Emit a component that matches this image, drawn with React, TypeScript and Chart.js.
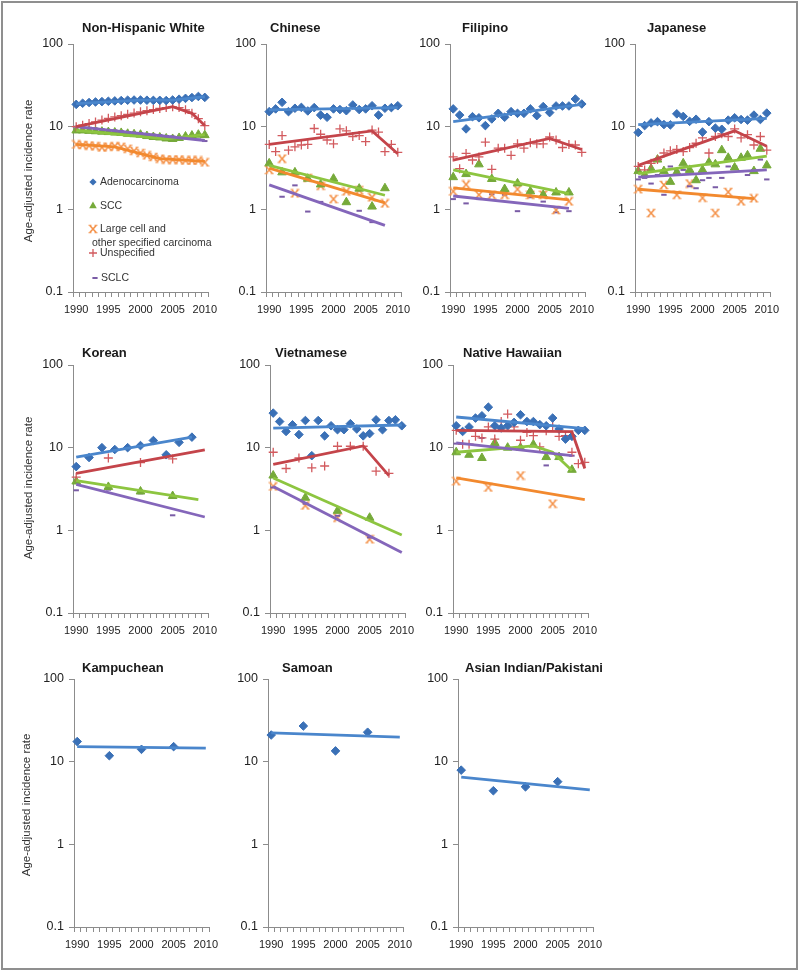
import React, { useEffect, useRef } from 'react';
import { Chart, registerables } from 'chart.js';

Chart.register(...registerables);

const FONT = "'Liberation Sans', Arial, Helvetica, sans-serif";

// ---------------- axis values ----------------
const YEARS = [1990, 1991, 1992, 1993, 1994, 1995, 1996, 1997, 1998, 1999, 2000, 2001, 2002, 2003, 2004, 2005, 2006, 2007, 2008, 2009, 2010];
const BIENNIAL_YEARS = [1990, 1992, 1994, 1996, 1998, 2000, 2002, 2004, 2006, 2008];
const QUINQ_YEARS = [1990, 1995, 2000, 2005];
const X_LABEL_YEARS = [1990, 1995, 2000, 2005, 2010];
const Y_TICKS = [0.1, 1, 10, 100];
const X_MIN = 1989.5;
const X_MAX = 2010.5;
const Y_TITLE = 'Age-adjusted incidence rate';
const LEGEND_LABELS = [['Adenocarcinoma'], ['SCC'], ['Large cell and', 'other specified carcinoma'], ['Unspecified'], ['SCLC']];

// ---------------- Non-Hispanic White ----------------
const nhwAdeno = [18.6, 19.2, 19.6, 19.9, 20.1, 20.3, 20.5, 20.7, 20.9, 21.0, 21.0, 20.9, 20.8, 20.8, 20.7, 21.0, 21.5, 22.0, 22.5, 23.2, 22.6];
const nhwScc = [9.0, 9.0, 8.9, 8.8, 8.7, 8.6, 8.5, 8.4, 8.2, 8.1, 8.0, 7.7, 7.5, 7.4, 7.2, 7.1, 7.3, 7.6, 7.8, 8.0, 7.9];
const nhwLarge = [6.1, 6.0, 5.9, 5.8, 5.6, 5.7, 5.8, 5.7, 5.4, 5.1, 4.8, 4.5, 4.3, 4.1, 4.0, 4.0, 4.0, 3.9, 3.9, 3.9, 3.7];
const nhwUnspec = [10.0, 10.4, 10.9, 11.4, 12.0, 12.6, 13.1, 13.6, 14.1, 14.6, 15.1, 15.6, 16.1, 16.6, 17.0, 17.4, 17.0, 16.0, 14.5, 12.5, 10.3];
const nhwSclc = [10.0, 9.8, 9.7, 9.5, 9.3, 9.1, 9.0, 8.8, 8.6, 8.4, 8.3, 8.1, 8.0, 7.9, 7.7, 7.6, 7.4, 7.3, 7.1, 7.0, 6.7];
const nhwAdenoTrend = [[1990, 19.0], [2000, 21.0], [2005, 21.0], [2010, 23.0]];
const nhwSccTrend = [[1990, 9.0], [2004, 7.1], [2010, 8.0]];
const nhwLargeTrend = [[1990, 6.1], [1996, 5.7], [2003, 4.1], [2010, 3.8]];
const nhwUnspecTrend = [[1990, 10.0], [2005, 17.5], [2008, 14.5], [2010, 10.3]];
const nhwSclcTrend = [[1990, 10.0], [2010, 6.8]];

// ---------------- Chinese ----------------
const chnAdeno = [15.2, 16.4, 19.7, 15.2, 16.7, 17.1, 15.5, 17.0, 13.8, 13.0, 16.4, 16.1, 15.6, 18.3, 16.1, 16.4, 17.9, 13.8, 16.7, 17.0, 17.9];
const chnUnspec = [6.1, 5.0, 7.8, 5.2, 5.7, 6.0, 6.1, 9.5, 8.1, 6.9, 6.2, 9.4, 8.9, 7.6, 7.8, 6.6, 9.1, 8.6, 5.0, 6.1, 4.9];
const chnScc = [3.6, 2.8, 2.8, 2.35, 2.0, 2.35, 1.22, 1.78, 1.08, 1.8];
const chnLarge = [3.0, 4.1, 1.56, 2.4, 1.93, 1.33, 1.65, 1.7, 1.4, 1.18];
const chnSclc = [null, 1.42, 1.95, 0.94, 1.23, null, null, 0.96, 0.7, null];
const chnAdenoTrend = [[1990, 16.0], [2010, 17.0]];
const chnUnspecTrend = [[1990, 6.1], [2006, 8.9], [2010, 4.7]];
const chnSccTrend = [[1990, 3.4], [2008, 1.48]];
const chnLargeTrend = [[1990, 3.15], [2008, 1.2]];
const chnSclcTrend = [[1990, 1.98], [2008, 0.64]];

// ---------------- Filipino ----------------
const filAdeno = [16.4, 13.8, 9.4, 13.2, 12.8, 10.3, 12.4, 14.5, 13.0, 15.2, 14.5, 14.5, 16.4, 13.6, 17.5, 14.8, 17.8, 17.8, 17.8, 21.6, 18.8];
const filUnspec = [4.3, 3.1, 4.75, 3.95, 4.3, 6.5, 3.05, 5.5, 5.5, 4.5, 6.2, 5.5, 6.4, 6.2, 6.2, 7.5, 6.9, 5.6, 6.1, 6.0, 4.9];
const filScc = [2.45, 2.67, 3.5, 2.33, 1.76, 2.06, 1.65, 1.5, 1.6, 1.6];
const filLarge = [1.65, 2.0, 1.5, 1.5, 1.5, 1.75, 1.5, 1.5, 0.98, 1.25];
const filSclc = [1.33, 1.18, 1.33, 1.52, 1.5, 0.95, 1.4, 1.24, 0.92, 0.95];
const filAdenoTrend = [[1990, 11.5], [2010, 18.6]];
const filUnspecTrend = [[1990, 3.95], [2005, 7.2], [2010, 5.3]];
const filSccTrend = [[1990, 3.0], [2008, 1.55]];
const filLargeTrend = [[1990, 1.82], [2008, 1.3]];
const filSclcTrend = [[1990, 1.45], [2008, 1.03]];

// ---------------- Japanese ----------------
const jpnAdeno = [8.5, 10.3, 11.1, 11.5, 10.6, 10.5, 14.3, 13.3, 11.6, 12.3, 8.6, 11.5, 9.6, 9.3, 12.0, 12.8, 12.2, 12.0, 13.8, 12.2, 14.6];
const jpnUnspec = [3.3, 3.0, 3.6, 4.0, 4.8, 5.1, 5.3, 5.0, 5.6, 6.3, 7.3, 4.8, 7.6, 8.2, 7.6, 9.4, 7.3, 8.0, 6.0, 7.6, 5.2];
const jpnScc = [2.9, 2.6, 3.1, 4.0, 2.9, 2.15, 2.8, 3.6, 3.0, 2.25, 3.0, 3.7, 3.5, 5.2, 4.2, 3.2, 4.2, 4.5, 2.9, 5.4, 3.4];
const jpnLarge = [1.75, 0.9, 1.97, 1.5, 2.05, 1.38, 0.9, 1.62, 1.25, 1.36];
const jpnSclc = [2.3, 2.4, 2.05, 2.6, 1.5, 3.3, 2.9, 3.0, 1.9, 1.8, 2.25, 2.4, 1.85, 2.4, 3.3, 3.3, 2.9, 2.6, 3.0, 4.0, 2.3];
const jpnAdenoTrend = [[1990, 10.6], [2010, 12.6]];
const jpnUnspecTrend = [[1990, 3.4], [2005, 8.9], [2010, 5.8]];
const jpnSccTrend = [[1990, 2.7], [2010, 4.4]];
const jpnLargeTrend = [[1990, 1.75], [2008, 1.35]];
const jpnSclcTrend = [[1990, 2.45], [2010, 3.0]];

// ---------------- Korean ----------------
const korAdeno = [5.9, 7.6, 10.0, 9.5, 10.0, 10.6, 12.2, 8.2, 11.6, 13.4];
const korUnspec = [4.4, 7.5, 6.6, 7.3];
const korScc = [3.9, 3.35, 2.95, 2.6];
const korSclc = [3.05, 3.1, 2.8, 1.52];
const korAdenoTrend = [[1990, 7.7], [2008, 13.4]];
const korUnspecTrend = [[1990, 4.9], [2010, 9.4]];
const korSccTrend = [[1990, 4.0], [2009, 2.35]];
const korSclcTrend = [[1990, 3.6], [2010, 1.45]];

// ---------------- Vietnamese ----------------
const vieAdeno = [26.2, 20.7, 15.7, 18.9, 14.4, 21.3, 8.0, 21.3, 13.9, 18.4, 16.5, 16.5, 19.5, 16.8, 13.9, 14.8, 21.7, 16.5, 21.3, 21.7, 18.4];
const vieUnspec = [8.8, 5.6, 7.5, 5.7, 6.0, 10.4, 10.4, 10.4, 5.2, 4.9];
const vieScc = [4.6, 2.48, 1.72, 1.42];
const vieLarge = [3.4, 2.0, 1.42, 0.78];
const vieSclc = [3.3, 2.1, 1.5, 0.82];
const vieAdenoTrend = [[1990, 17.2], [2010, 18.8]];
const vieUnspecTrend = [[1990, 6.3], [2004, 10.5], [2008, 4.6]];
const vieSccTrend = [[1990, 4.3], [2010, 0.88]];
const vieSclcTrend = [[1990, 3.4], [2010, 0.54]];

// ---------------- Native Hawaiian ----------------
const nhAdeno = [18.4, 15.7, 17.8, 22.8, 24.3, 30.9, 18.4, 17.3, 18.4, 20.2, 25.0, 20.7, 20.7, 19.0, 18.4, 22.8, 16.8, 12.7, 13.7, 16.2, 16.2];
const nhUnspec = [16.2, 11.0, 11.0, 13.7, 13.1, 17.8, 12.7, 20.7, 25.5, 17.8, 12.3, 15.3, 14.0, 10.2, 16.0, 18.4, 13.7, 14.0, 8.8, 6.4, 6.65];
const nhScc = [8.8, 8.2, 7.5, 11.4, 10.0, 10.0, 10.9, 7.7, 7.7, 5.4];
const nhLarge = [3.93, 3.3, 4.6, 2.1];
const nhSclc = [11.2, null, 13.1, null, null, null, null, 6.1, null, 8.0];
const nhAdenoTrend = [[1990, 23.5], [2010, 17.0]];
const nhUnspecTrend = [[1990, 16.2], [2008, 15.6], [2010, 5.6]];
const nhSccTrend = [[1990, 8.8], [2002, 10.5], [2005, 8.8], [2008, 5.3]];
const nhLargeTrend = [[1990, 4.3], [2010, 2.35]];
const nhSclcTrend = [[1990, 11.4], [2008, 8.0]];

// ---------------- Kampuchean / Samoan / Asian Indian ----------------
const kamAdeno = [17.5, 11.8, 14.1, 15.2];
const kamAdenoTrend = [[1990, 15.2], [2010, 14.6]];
const samAdeno = [21.0, 27.0, 13.5, 22.7];
const samAdenoTrend = [[1990, 22.3], [2010, 19.8]];
const aipAdeno = [7.9, 4.45, 4.96, 5.73];
const aipAdenoTrend = [[1990, 6.5], [2010, 4.55]];

type Kind = 'adeno' | 'scc' | 'large' | 'unspec' | 'sclc';
type SeriesDef = { kind: Kind; years: number[]; values: (number | null)[]; trend?: number[][] };
type PanelDef = { title: string; series: SeriesDef[] };

const PANELS: PanelDef[] = [
  {
    title: 'Non-Hispanic White',
    series: [
      { kind: 'adeno', years: YEARS, values: nhwAdeno, trend: nhwAdenoTrend },
      { kind: 'unspec', years: YEARS, values: nhwUnspec, trend: nhwUnspecTrend },
      { kind: 'sclc', years: YEARS, values: nhwSclc, trend: nhwSclcTrend },
      { kind: 'scc', years: YEARS, values: nhwScc, trend: nhwSccTrend },
      { kind: 'large', years: YEARS, values: nhwLarge, trend: nhwLargeTrend },
    ],
  },
  {
    title: 'Chinese',
    series: [
      { kind: 'adeno', years: YEARS, values: chnAdeno, trend: chnAdenoTrend },
      { kind: 'unspec', years: YEARS, values: chnUnspec, trend: chnUnspecTrend },
      { kind: 'scc', years: BIENNIAL_YEARS, values: chnScc, trend: chnSccTrend },
      { kind: 'large', years: BIENNIAL_YEARS, values: chnLarge, trend: chnLargeTrend },
      { kind: 'sclc', years: BIENNIAL_YEARS, values: chnSclc, trend: chnSclcTrend },
    ],
  },
  {
    title: 'Filipino',
    series: [
      { kind: 'adeno', years: YEARS, values: filAdeno, trend: filAdenoTrend },
      { kind: 'unspec', years: YEARS, values: filUnspec, trend: filUnspecTrend },
      { kind: 'scc', years: BIENNIAL_YEARS, values: filScc, trend: filSccTrend },
      { kind: 'large', years: BIENNIAL_YEARS, values: filLarge, trend: filLargeTrend },
      { kind: 'sclc', years: BIENNIAL_YEARS, values: filSclc, trend: filSclcTrend },
    ],
  },
  {
    title: 'Japanese',
    series: [
      { kind: 'adeno', years: YEARS, values: jpnAdeno, trend: jpnAdenoTrend },
      { kind: 'unspec', years: YEARS, values: jpnUnspec, trend: jpnUnspecTrend },
      { kind: 'scc', years: YEARS, values: jpnScc, trend: jpnSccTrend },
      { kind: 'sclc', years: YEARS, values: jpnSclc, trend: jpnSclcTrend },
      { kind: 'large', years: BIENNIAL_YEARS, values: jpnLarge, trend: jpnLargeTrend },
    ],
  },
  {
    title: 'Korean',
    series: [
      { kind: 'adeno', years: BIENNIAL_YEARS, values: korAdeno, trend: korAdenoTrend },
      { kind: 'unspec', years: QUINQ_YEARS, values: korUnspec, trend: korUnspecTrend },
      { kind: 'scc', years: QUINQ_YEARS, values: korScc, trend: korSccTrend },
      { kind: 'sclc', years: QUINQ_YEARS, values: korSclc, trend: korSclcTrend },
    ],
  },
  {
    title: 'Vietnamese',
    series: [
      { kind: 'adeno', years: YEARS, values: vieAdeno, trend: vieAdenoTrend },
      { kind: 'unspec', years: BIENNIAL_YEARS, values: vieUnspec, trend: vieUnspecTrend },
      { kind: 'scc', years: QUINQ_YEARS, values: vieScc, trend: vieSccTrend },
      { kind: 'sclc', years: QUINQ_YEARS, values: vieSclc, trend: vieSclcTrend },
      { kind: 'large', years: QUINQ_YEARS, values: vieLarge },
    ],
  },
  {
    title: 'Native Hawaiian',
    series: [
      { kind: 'adeno', years: YEARS, values: nhAdeno, trend: nhAdenoTrend },
      { kind: 'unspec', years: YEARS, values: nhUnspec, trend: nhUnspecTrend },
      { kind: 'sclc', years: BIENNIAL_YEARS, values: nhSclc, trend: nhSclcTrend },
      { kind: 'scc', years: BIENNIAL_YEARS, values: nhScc, trend: nhSccTrend },
      { kind: 'large', years: QUINQ_YEARS, values: nhLarge, trend: nhLargeTrend },
    ],
  },
  { title: 'Kampuchean', series: [{ kind: 'adeno', years: QUINQ_YEARS, values: kamAdeno, trend: kamAdenoTrend }] },
  { title: 'Samoan', series: [{ kind: 'adeno', years: QUINQ_YEARS, values: samAdeno, trend: samAdenoTrend }] },
  { title: 'Asian Indian/Pakistani', series: [{ kind: 'adeno', years: QUINQ_YEARS, values: aipAdeno, trend: aipAdenoTrend }] },
];

// ---------------- layout & styles ----------------
const PANEL_W = 135;
const PANEL_H = 248;
const PAD_L = 40;
const PAD_T = 10;
const PAD_R = 14;
const PAD_B = 30;
const CANVAS_W = PAD_L + PANEL_W + PAD_R;
const CANVAS_H = PAD_T + PANEL_H + PAD_B;

const LAYOUT = [
  { left: 73, top: 44, titleX: 82, titleY: 28 },
  { left: 266, top: 44, titleX: 270, titleY: 28 },
  { left: 450, top: 44, titleX: 462, titleY: 28 },
  { left: 635, top: 44, titleX: 647, titleY: 28 },
  { left: 73, top: 365, titleX: 82, titleY: 353 },
  { left: 270, top: 365, titleX: 275, titleY: 353 },
  { left: 453, top: 365, titleX: 463, titleY: 353 },
  { left: 74, top: 679, titleX: 82, titleY: 668 },
  { left: 268, top: 679, titleX: 282, titleY: 668 },
  { left: 458, top: 679, titleX: 465, titleY: 668 },
];
const Y_TITLE_POS = [
  { x: 28, y: 171 },
  { x: 28, y: 488 },
  { x: 26, y: 805 },
];
const LEGEND_POS = {
  markerX: 93,
  textX: 100,
  wrapX: 92,
  rows: [182, 206, 229, 253, 278],
  wrapDy: 14,
};
const LEGEND_KINDS: Kind[] = ['adeno', 'scc', 'large', 'unspec', 'sclc'];

const STYLE: Record<Kind, { color: string; line: string; r: number; bw: number }> = {
  adeno: { color: '#3A70B6', line: '#4A86CC', r: 4.3, bw: 1 },
  scc: { color: '#76AA3A', line: '#8DC540', r: 5, bw: 1 },
  large: { color: '#F4924A', line: '#F2892E', r: 4.5, bw: 1.4 },
  unspec: { color: '#D25A5E', line: '#C4444A', r: 4.5, bw: 1.3 },
  sclc: { color: '#7A5CA6', line: '#8466BA', r: 2.7, bw: 2 },
};

function makeXMarker(color: string): HTMLCanvasElement {
  const c = document.createElement('canvas');
  c.width = 10;
  c.height = 10;
  const g = c.getContext('2d')!;
  g.strokeStyle = color;
  g.lineWidth = 1.6;
  g.beginPath();
  g.moveTo(1.8, 1.5);
  g.lineTo(8.2, 8.5);
  g.moveTo(8.2, 1.5);
  g.lineTo(1.8, 8.5);
  g.stroke();
  g.lineWidth = 1.1;
  g.beginPath();
  g.moveTo(0.5, 1.2);
  g.lineTo(3.5, 1.2);
  g.moveTo(6.5, 1.2);
  g.lineTo(9.5, 1.2);
  g.moveTo(0.5, 8.8);
  g.lineTo(3.5, 8.8);
  g.moveTo(6.5, 8.8);
  g.lineTo(9.5, 8.8);
  g.stroke();
  return c;
}

function pointStyleFor(kind: Kind, img: HTMLCanvasElement): any {
  if (kind === 'adeno') return 'rectRot';
  if (kind === 'scc') return 'triangle';
  if (kind === 'unspec') return 'cross';
  if (kind === 'sclc') return 'line';
  return img;
}

function drawMarker(ctx: CanvasRenderingContext2D, kind: Kind, x: number, y: number, img: HTMLCanvasElement) {
  const st = STYLE[kind];
  ctx.save();
  ctx.fillStyle = st.color;
  ctx.strokeStyle = st.color;
  ctx.lineWidth = st.bw;
  ctx.beginPath();
  if (kind === 'adeno') {
    const r = 3.6;
    ctx.moveTo(x, y - r);
    ctx.lineTo(x + r, y);
    ctx.lineTo(x, y + r);
    ctx.lineTo(x - r, y);
    ctx.closePath();
    ctx.fill();
  } else if (kind === 'scc') {
    const r = 4.4;
    ctx.moveTo(x, y - r);
    ctx.lineTo(x + r * 0.866, y + r * 0.5);
    ctx.lineTo(x - r * 0.866, y + r * 0.5);
    ctx.closePath();
    ctx.fill();
  } else if (kind === 'unspec') {
    const r = 4;
    ctx.moveTo(x - r, y);
    ctx.lineTo(x + r, y);
    ctx.moveTo(x, y - r);
    ctx.lineTo(x, y + r);
    ctx.stroke();
  } else if (kind === 'sclc') {
    const r = 2.6;
    ctx.moveTo(x - r, y);
    ctx.lineTo(x + r, y);
    ctx.stroke();
  } else {
    ctx.drawImage(img, x - img.width / 2, y - img.height / 2);
  }
  ctx.restore();
}

function Panel({ def, layout, withLegend }: { def: PanelDef; layout: typeof LAYOUT[number]; withLegend: boolean }) {
  const ref = useRef<HTMLCanvasElement>(null);
  useEffect(() => {
    const canvas = ref.current!;
    const img = makeXMarker(STYLE.large.color);
    const datasets: any[] = [];
    def.series.forEach((s) => {
      const st = STYLE[s.kind];
      if (s.trend) {
        datasets.push({
          data: s.trend.map(([x, y]) => ({ x, y })),
          showLine: true,
          borderColor: st.line,
          borderWidth: 2.8,
          pointRadius: 0,
          pointHoverRadius: 0,
          tension: 0,
          clip: false,
          order: 0,
        });
      }
      datasets.push({
        data: s.years.map((x, i) => ({ x, y: s.values[i] })).filter((p) => p.y !== null && p.y !== undefined),
        showLine: false,
        pointStyle: pointStyleFor(s.kind, img),
        pointRadius: st.r,
        pointHoverRadius: st.r,
        pointBackgroundColor: st.color,
        pointBorderColor: st.color,
        pointBorderWidth: st.bw,
        clip: false,
        order: 1,
      });
    });

    const offX = layout.left - PAD_L;
    const offY = layout.top - PAD_T;
    const legendPlugin = {
      id: 'inlineLegend',
      afterDraw(chart: any) {
        if (!withLegend) return;
        const ctx = chart.ctx as CanvasRenderingContext2D;
        ctx.save();
        ctx.font = `10.5px ${FONT}`;
        ctx.fillStyle = '#333';
        ctx.textBaseline = 'middle';
        ctx.textAlign = 'left';
        LEGEND_KINDS.forEach((kind, i) => {
          const y = LEGEND_POS.rows[i] - offY;
          const mx = LEGEND_POS.markerX - offX + (kind === 'sclc' ? 2 : 0);
          drawMarker(ctx, kind, mx, y, img);
          const lines = LEGEND_LABELS[i];
          ctx.fillText(lines[0], LEGEND_POS.textX - offX + (kind === 'sclc' ? 1 : 0), y);
          if (lines[1]) ctx.fillText(lines[1], LEGEND_POS.wrapX - offX, y + LEGEND_POS.wrapDy);
        });
        ctx.restore();
      },
    };

    const chart = new Chart(canvas, {
      type: 'scatter',
      data: { datasets },
      plugins: [legendPlugin],
      options: {
        responsive: false,
        animation: false,
        events: [],
        layout: { padding: { left: 0, top: PAD_T, right: PAD_R, bottom: 0 } },
        plugins: { legend: { display: false }, tooltip: { enabled: false }, title: { display: false } },
        scales: {
          x: {
            type: 'linear',
            min: X_MIN,
            max: X_MAX,
            afterBuildTicks: (s: any) => {
              s.ticks = YEARS.map((v) => ({ value: v }));
            },
            afterFit: (s: any) => {
              s.height = PAD_B;
              s.paddingLeft = 0;
              s.paddingRight = 0;
            },
            ticks: {
              autoSkip: false,
              maxRotation: 0,
              minRotation: 0,
              padding: 6,
              color: '#222',
              font: { family: FONT, size: 11 },
              callback: (v: any) => (X_LABEL_YEARS.includes(Number(v)) ? String(v) : ''),
            },
            grid: { offset: true, drawOnChartArea: false, drawTicks: true, tickLength: 5, color: '#8c8c8c', lineWidth: 1 },
            border: { display: true, color: '#8c8c8c', width: 1 },
          },
          y: {
            type: 'logarithmic',
            min: 0.1,
            max: 100,
            afterBuildTicks: (s: any) => {
              s.ticks = Y_TICKS.map((v) => ({ value: v }));
            },
            afterFit: (s: any) => {
              s.width = PAD_L;
              s.paddingTop = 0;
              s.paddingBottom = 0;
            },
            ticks: {
              padding: 5,
              color: '#222',
              font: { family: FONT, size: 12.5 },
              callback: (v: any) => String(v),
            },
            grid: { drawOnChartArea: false, drawTicks: true, tickLength: 5, color: '#8c8c8c', lineWidth: 1 },
            border: { display: true, color: '#8c8c8c', width: 1 },
          },
        },
      } as any,
    });
    return () => chart.destroy();
  }, []);

  return (
    <canvas
      ref={ref}
      width={CANVAS_W}
      height={CANVAS_H}
      style={{ position: 'absolute', left: layout.left - PAD_L, top: layout.top - PAD_T, width: CANVAS_W, height: CANVAS_H }}
    />
  );
}

export default function App() {
  return (
    <div
      style={{
        position: 'absolute',
        left: 0,
        top: 0,
        width: 800,
        height: 972,
        background: '#fff',
        overflow: 'hidden',
        fontFamily: FONT,
      }}
    >
      <div
        style={{
          position: 'absolute',
          left: 1,
          top: 1,
          width: 797,
          height: 969,
          boxSizing: 'border-box',
          border: '2px solid #8f8f8f',
        }}
      />
      {PANELS.map((p, i) => (
        <Panel key={p.title} def={p} layout={LAYOUT[i]} withLegend={i === 0} />
      ))}
      {PANELS.map((p, i) => (
        <div
          key={'t' + p.title}
          style={{
            position: 'absolute',
            left: LAYOUT[i].titleX,
            top: LAYOUT[i].titleY - 8,
            height: 16,
            lineHeight: '16px',
            fontSize: 13,
            fontWeight: 'bold',
            color: '#1a1a1a',
            whiteSpace: 'nowrap',
          }}
        >
          {p.title}
        </div>
      ))}
      {Y_TITLE_POS.map((pos, i) => (
        <div
          key={'y' + i}
          style={{
            position: 'absolute',
            left: pos.x,
            top: pos.y,
            transform: 'translate(-50%, -50%) rotate(-90deg)',
            fontSize: 11.5,
            lineHeight: '14px',
            color: '#333',
            whiteSpace: 'nowrap',
          }}
        >
          {Y_TITLE}
        </div>
      ))}
    </div>
  );
}
